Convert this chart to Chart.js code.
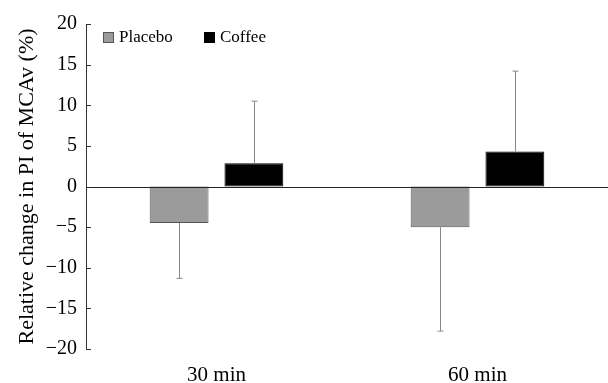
<!DOCTYPE html>
<html>
<head>
<meta charset="utf-8">
<script src="https://cdn.jsdelivr.net/npm/chart.js@4.4.0/dist/chart.umd.min.js"></script>
<style>
  body { margin: 0; background: #fff; }
  #wrap { width: 608px; height: 383px; }
</style>
</head>
<body>
<div id="wrap"><canvas id="chart"></canvas></div>
<script>
// dados
const categories = ["30 min", "60 min"];
const placebo = [-4.5, -5.0];
const coffee = [2.85, 4.3];
const placeboErr = [-11.3, -17.8];  // extremidade da barra de erro
const coffeeErr = [10.5, 14.2];
const yTicks = [-20, -15, -10, -5, 0, 5, 10, 15, 20];

const serif = "'Liberation Serif', 'Times New Roman', serif";

// barras de erro, marcas do eixo, linha do zero e legenda
const extras = {
  id: "extras",
  afterDatasetsDraw(chart) {
    const { ctx, chartArea } = chart;
    const y = chart.scales.y;
    ctx.save();

    // linha do zero
    ctx.strokeStyle = "#222";
    ctx.lineWidth = 1.2;
    const y0 = Math.round(y.getPixelForValue(0)) + 0.5;
    ctx.beginPath();
    ctx.moveTo(chartArea.left, y0);
    ctx.lineTo(chart.width, y0);
    ctx.stroke();

    // marcas para dentro
    ctx.strokeStyle = "#333";
    ctx.lineWidth = 1;
    yTicks.forEach((v) => {
      const py = Math.round(y.getPixelForValue(v)) + 0.5;
      ctx.beginPath();
      ctx.moveTo(chartArea.left, py);
      ctx.lineTo(chartArea.left + 5, py);
      ctx.stroke();
    });

    // barras de erro
    const errs = [placeboErr, coffeeErr];
    ctx.strokeStyle = "#888";
    ctx.lineWidth = 1;
    chart.data.datasets.forEach((ds, i) => {
      const meta = chart.getDatasetMeta(i);
      meta.data.forEach((bar, j) => {
        const x = Math.round(bar.x) + 0.5;
        const yEnd = y.getPixelForValue(errs[i][j]);
        ctx.beginPath();
        ctx.moveTo(x, bar.y);
        ctx.lineTo(x, yEnd);
        ctx.moveTo(x - 3, yEnd);
        ctx.lineTo(x + 3, yEnd);
        ctx.stroke();
      });
    });

    // legenda dentro da área
    const legendX = [103, 204];
    ctx.font = "17px " + serif;
    ctx.textBaseline = "middle";
    chart.data.datasets.forEach((ds, i) => {
      const lx = legendX[i];
      ctx.fillStyle = ds.backgroundColor;
      ctx.fillRect(lx, 32, 11, 11);
      ctx.strokeStyle = ds.borderColor;
      ctx.strokeRect(lx + 0.5, 32.5, 10, 10);
      ctx.fillStyle = "#000";
      ctx.fillText(ds.label, lx + 16, 38);
    });
    ctx.restore();
  },
};

new Chart(document.getElementById("chart"), {
  type: "bar",
  data: {
    labels: categories,
    datasets: [
      {
        label: "Placebo",
        data: placebo,
        backgroundColor: "#9b9b9b",
        borderColor: "#555",
        borderWidth: 1,
        borderSkipped: false,
      },
      {
        label: "Coffee",
        data: coffee,
        backgroundColor: "#000",
        borderColor: "#000",
        borderWidth: 1,
        borderSkipped: false,
      },
    ],
  },
  options: {
    responsive: true,
    maintainAspectRatio: false,
    animation: false,
    categoryPercentage: 0.573,
    barPercentage: 0.787,
    layout: { padding: { top: 24, right: 0, left: 14, bottom: 0 } },
    plugins: {
      legend: { display: false },
      tooltip: { enabled: false },
    },
    scales: {
      x: {
        afterFit(scale) {
          scale.height = 34;
        },
        grid: { display: false, drawTicks: false },
        border: { display: false },
        ticks: {
          font: { family: serif, size: 21 },
          color: "#000",
          padding: 14,
        },
      },
      y: {
        min: -20,
        max: 20,
        afterBuildTicks(scale) {
          scale.ticks = yTicks.map((v) => ({ value: v }));
        },
        afterFit(scale) {
          scale.width = 72;
        },
        grid: { display: false, drawTicks: false },
        border: { display: true, color: "#333", width: 1 },
        ticks: {
          font: { family: serif, size: 20 },
          color: "#000",
          padding: 9,
          callback: (v) => String(v).replace("-", "\u2212"),
        },
        title: {
          display: true,
          text: "Relative change in PI of MCAv (%)",
          font: { family: serif, size: 22 },
          color: "#000",
          padding: 0,
        },
      },
    },
  },
  plugins: [extras],
});
</script>
</body>
</html>
